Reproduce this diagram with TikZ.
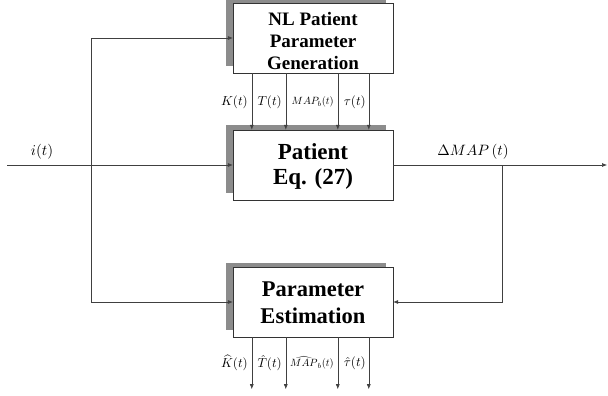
\documentclass[tikz,border=0pt]{standalone}
\usepackage{fontspec}
\setmainfont{Liberation Serif}
\usetikzlibrary{arrows.meta,calc}
\newcommand{\mlab}[2]{\scalebox{#1}{$#2$}}
\begin{document}
\begin{tikzpicture}[x=1pt,y=-1pt,
  blk/.style={draw=black!80,fill=white,minimum width=160pt,minimum height=70pt,inner sep=0pt},
  txt/.style={inner sep=0pt,align=center,font=\bfseries},
  shad/.style={fill=black!45,draw=none},
  ln/.style={draw=black!75,line width=0.6pt},
  arr/.style={ln,-{Latex[length=5pt,width=4pt]}},
  lab/.style={inner sep=0pt,anchor=east,font=\normalsize}]
\useasboundingbox (0,0) rectangle (608,396);
% shadows
\fill[shad] (226,-2) rectangle (386,66);
\fill[shad] (226,125) rectangle (386,193);
\fill[shad] (226,263) rectangle (386,330);
% blocks
\node[blk] (gen) at (313,38) {};
\node[blk] (pat) at (313,165) {};
\node[blk] (est) at (313,302) {};
\node[txt,font=\bfseries\fontsize{19}{22}\selectfont] (gent) at (313,41) {NL Patient\\Parameter\\Generation};
\node[txt,font=\bfseries\fontsize{23}{25}\selectfont] (patt) at (313,166) {Patient\\Eq. (27)};
\node[txt,font=\bfseries\fontsize{22.5}{27}\selectfont] (estt) at (313,303) {Parameter\\Estimation};
% input
\coordinate (in) at (7,165);
\coordinate (br) at (91,165);
\coordinate (out) at (607,165);
\coordinate (fb) at (502,165);
\draw[arr] (in) -- (pat.west);
\draw[arr] (br) |- (gen.west);
\draw[arr] (br) |- (est.west);
\node[inner sep=0pt,font=\normalsize] (il) at (42,152) {\mlab{1.5}{i(t)}};
% output
\draw[arr] (pat.east) -- (out);
\draw[arr] (fb) |- (est.east);
\node[inner sep=0pt,font=\normalsize] (ol) at (473,152) {\mlab{1.5}{\Delta MAP\,(t)}};
% parameter arrows
\foreach \dx/\n in {19/a,53/b,105/c,136/d}{
  \draw[arr] ([xshift=\dx pt]gen.south west) -- ([xshift=\dx pt]pat.north west);
  \coordinate (e\n) at ($(est.south west)+(\dx,52)$);
  \draw[arr] ([xshift=\dx pt]est.south west) -- (e\n);
}
\node[lab] (lk) at (248,102) {\mlab{1.3}{K(t)}};
\node[lab] (lt) at (282,102) {\mlab{1.3}{T(t)}};
\node[lab] (lm) at (334,102) {\mlab{1.05}{MAP_b(t)}};
\node[lab] (lu) at (366,102) {\mlab{1.3}{\tau(t)}};
\node[lab] (hk) at (248,363) {\mlab{1.3}{\widehat{K}(t)}};
\node[lab] (ht) at (282,363) {\mlab{1.3}{\hat{T}(t)}};
\node[lab] (hm) at (334,363) {\mlab{1.05}{\widehat{MAP}_b(t)}};
\node[lab] (hu) at (366,363) {\mlab{1.3}{\hat{\tau}(t)}};
\end{tikzpicture}
\end{document}
